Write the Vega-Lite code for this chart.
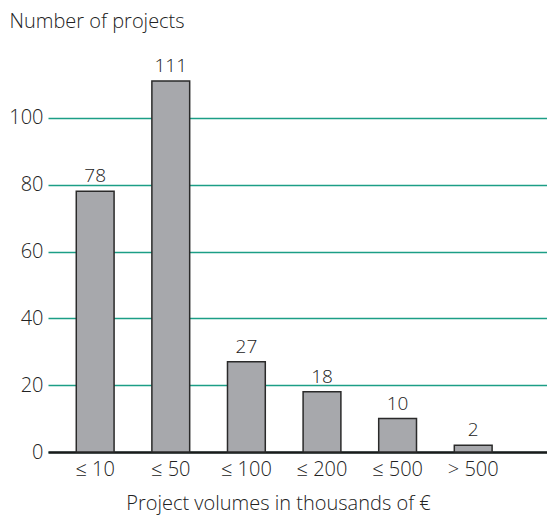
{
  "$schema": "https://vega.github.io/schema/vega-lite/v6.json",
  "autosize": "none",
  "width": 499,
  "height": 401,
  "padding": {"left": 48, "top": 51, "right": 0, "bottom": 63},
  "background": "white",
  "config": {
    "font": "Open Sans",
    "view": {"stroke": null}
  },
  "data": {
    "values": [
      {"volume": "≤ 10", "projects": 78},
      {"volume": "≤ 50", "projects": 111},
      {"volume": "≤ 100", "projects": 27},
      {"volume": "≤ 200", "projects": 18},
      {"volume": "≤ 500", "projects": 10},
      {"volume": "> 500", "projects": 2}
    ]
  },
  "encoding": {
    "x": {
      "field": "volume",
      "type": "nominal",
      "sort": null,
      "scale": {"paddingInner": 0.5, "paddingOuter": 0.55, "align": 0.34},
      "axis": {
        "title": "Project volumes in thousands of €",
        "titleFontSize": 20,
        "titleFontWeight": 300,
        "titleColor": "#222222",
        "titleX": 230,
        "titleY": 57,
        "titleBaseline": "alphabetic",
        "labelAngle": 0,
        "labelFontSize": 20,
        "labelFontWeight": 300,
        "labelColor": "#222222",
        "labelPadding": 7,
        "ticks": false,
        "domainColor": "#1a1a1a",
        "domainWidth": 2.5
      }
    },
    "y": {
      "field": "projects",
      "type": "quantitative",
      "scale": {"domain": [0, 120], "nice": false},
      "axis": {
        "title": "Number of projects",
        "titleAngle": 0,
        "titleAlign": "left",
        "titleBaseline": "alphabetic",
        "titleX": -39,
        "titleY": -24,
        "titleFontSize": 20,
        "titleFontWeight": 300,
        "titleColor": "#222222",
        "values": [0, 20, 40, 60, 80, 100],
        "labelFontSize": 20,
        "labelFontWeight": 300,
        "labelColor": "#222222",
        "labelPadding": 5,
        "ticks": false,
        "domain": false,
        "grid": true,
        "gridColor": "#1c9e86",
        "gridWidth": 1.5,
        "gridOpacity": 1
      }
    }
  },
  "layer": [
    {
      "mark": {"type": "bar", "fill": "#a7a8ac", "stroke": "#2a2a2a", "strokeWidth": 1.5}
    },
    {
      "mark": {"type": "text", "dy": -9, "fontSize": 19, "fontWeight": 300, "color": "#222222", "baseline": "alphabetic"},
      "encoding": {"text": {"field": "projects", "type": "quantitative"}}
    }
  ]
}
